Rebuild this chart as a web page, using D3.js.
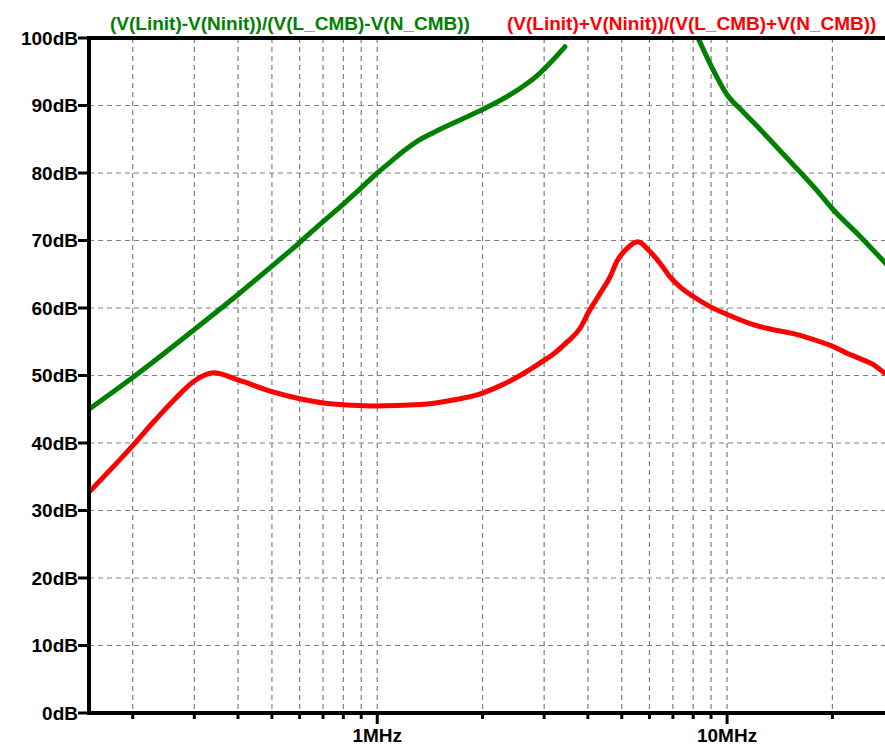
<!DOCTYPE html>
<html>
<head>
<meta charset="utf-8">
<script src="https://cdn.jsdelivr.net/npm/d3@7"></script>
<style>
  body { margin: 0; background: #fff; }
  svg text { font-family: "Liberation Sans", Arial, sans-serif; font-weight: bold; }
</style>
</head>
<body>
<svg id="bode" width="885" height="747"></svg>
<script>
(function () {
  'use strict';

  // trace names
  var titles = [
    '(V(Linit)-V(Ninit))/(V(L_CMB)-V(N_CMB))',
    '(V(Linit)+V(Ninit))/(V(L_CMB)+V(N_CMB))'
  ];

  // differential-mode trace (null = off the top of the plot)
  var diffFreq = [150e3, 200e3, 300e3, 400e3, 500e3, 600e3, 700e3, 800e3, 900e3, 1e6,
    1.1e6, 1.2e6, 1.3e6, 1.45e6, 1.7e6, 2e6, 2.4e6, 2.62e6, 2.86e6, 3.12e6, 3.44e6, 5.5e6,
    8.26e6, 9.04e6, 10e6, 11e6, 12e6, 14e6, 16e6, 18e6, 20e6, 24e6, 28.3e6, 30e6];
  var diffDb = [45.0, 49.7, 56.8, 62.0, 66.2, 69.7, 72.8, 75.4, 77.8, 80.0,
    81.8, 83.4, 84.7, 86.0, 87.7, 89.4, 91.6, 92.9, 94.4, 96.3, 98.7, null,
    100.0, 95.7, 91.6, 89.3, 87.3, 83.6, 80.4, 77.5, 74.7, 70.6, 66.7, 65.3];

  // common-mode trace
  var commFreq = [150e3, 200e3, 232e3, 265e3, 302e3, 341e3, 402e3, 500e3, 596e3, 710e3, 847e3, 986e3,
    1.33e6, 1.62e6, 2e6, 2.25e6, 2.56e6, 2.99e6, 3.19e6, 3.48e6, 3.8e6, 4.02e6, 4.34e6, 4.63e6,
    4.84e6, 5.17e6, 5.56e6, 5.96e6, 6.44e6, 6.87e6, 7.42e6, 8.01e6, 8.94e6, 10.05e6, 11.63e6,
    12.98e6, 15.47e6, 18.44e6, 20.1e6, 22e6, 24e6, 26.2e6, 28.3e6, 30e6];
  var commDb = [32.7, 39.6, 43.4, 46.6, 49.3, 50.4, 49.3, 47.6, 46.6, 45.9, 45.6, 45.5,
    45.7, 46.3, 47.4, 48.5, 50.0, 52.2, 53.2, 54.9, 57.0, 59.4, 62.2, 64.6,
    66.9, 68.8, 69.8, 68.6, 66.6, 64.6, 62.9, 61.7, 60.2, 59.0, 57.7,
    57.0, 56.2, 55.0, 54.3, 53.3, 52.5, 51.6, 50.3, 49.5];

  // axis ticks
  var dbTicks = [0, 10, 20, 30, 40, 50, 60, 70, 80, 90, 100];
  var freqGrid = [200e3, 300e3, 400e3, 500e3, 600e3, 700e3, 800e3, 900e3,
    1e6, 2e6, 3e6, 4e6, 5e6, 6e6, 7e6, 8e6, 9e6, 10e6, 20e6];
  var freqMajor = [1e6, 10e6];
  var freqLabels = ['1MHz', '10MHz'];

  var left = 89, right = 894, top = 38, bottom = 713;

  var x = d3.scaleLog().domain([150e3, 30e6]).range([left, right]);
  var y = d3.scaleLinear().domain([0, 100]).range([bottom, top]);

  var svg = d3.select('svg#bode');

  svg.append('defs').append('clipPath').attr('id', 'plot-clip')
    .append('rect')
    .attr('x', left).attr('y', top)
    .attr('width', right - left).attr('height', bottom - top);

  // grid
  var grid = svg.append('g').attr('class', 'grid')
    .attr('stroke', '#808080').attr('stroke-width', 1.2)
    .attr('stroke-dasharray', '5,4');

  grid.selectAll('line.v').data(freqGrid).enter().append('line')
    .attr('x1', function (d) { return x(d); })
    .attr('x2', function (d) { return x(d); })
    .attr('y1', top).attr('y2', bottom);

  grid.selectAll('line.h').data(dbTicks.slice(1, -1)).enter().append('line')
    .attr('x1', left).attr('x2', right)
    .attr('y1', function (d) { return y(d); })
    .attr('y2', function (d) { return y(d); });

  // traces
  var traces = svg.append('g').attr('clip-path', 'url(#plot-clip)');

  var makeLine = function (freqs, vals) {
    var pts = freqs.map(function (f, i) { return { f: f, v: vals[i] }; });
    var line = d3.line()
      .defined(function (d) { return d.v !== null; })
      .x(function (d) { return x(d.f); })
      .y(function (d) { return y(d.v); })
      .curve(d3.curveMonotoneX);
    return line(pts);
  };

  traces.append('path')
    .attr('d', makeLine(diffFreq, diffDb))
    .attr('fill', 'none').attr('stroke', '#008000')
    .attr('stroke-width', 5).attr('stroke-linecap', 'round').attr('stroke-linejoin', 'round');

  traces.append('path')
    .attr('d', makeLine(commFreq, commDb))
    .attr('fill', 'none').attr('stroke', '#ff0000')
    .attr('stroke-width', 5).attr('stroke-linecap', 'round').attr('stroke-linejoin', 'round');

  // frame
  var frame = svg.append('g').attr('stroke', '#000').attr('stroke-width', 4);
  frame.append('line').attr('x1', left).attr('x2', left).attr('y1', top - 2).attr('y2', bottom + 2);
  frame.append('line').attr('x1', left).attr('x2', 885).attr('y1', top).attr('y2', top);
  frame.append('line').attr('x1', left).attr('x2', 885).attr('y1', bottom).attr('y2', bottom);

  // y ticks + labels
  var yAxis = svg.append('g');
  yAxis.selectAll('line').data(dbTicks).enter().append('line')
    .attr('x1', left - 11).attr('x2', left)
    .attr('y1', function (d) { return y(d); })
    .attr('y2', function (d) { return y(d); })
    .attr('stroke', '#000').attr('stroke-width', 3);
  yAxis.selectAll('text').data(dbTicks).enter().append('text')
    .attr('x', left - 11)
    .attr('y', function (d) { return y(d); })
    .attr('dy', '0.36em')
    .style('text-anchor', 'end')
    .style('font-size', '19px')
    .attr('fill', '#000')
    .text(function (d) { return d + 'dB'; });

  // x ticks + labels
  var xAxis = svg.append('g');
  xAxis.selectAll('line').data(freqGrid).enter().append('line')
    .attr('x1', function (d) { return x(d); })
    .attr('x2', function (d) { return x(d); })
    .attr('y1', bottom)
    .attr('y2', function (d) { return freqMajor.indexOf(d) >= 0 ? bottom + 11 : bottom + 6; })
    .attr('stroke', '#000').attr('stroke-width', 3);
  xAxis.selectAll('text').data(freqMajor).enter().append('text')
    .attr('x', function (d) { return x(d); })
    .attr('y', 742)
    .style('text-anchor', 'middle')
    .style('font-size', '19px')
    .attr('fill', '#000')
    .text(function (d, i) { return freqLabels[i]; });

  // trace titles
  svg.append('text')
    .attr('x', 110).attr('y', 30)
    .style('font-size', '19px')
    .attr('fill', '#008000')
    .text(titles[0]);
  svg.append('text')
    .attr('x', 507).attr('y', 30)
    .style('font-size', '19px')
    .attr('fill', '#ff0000')
    .text(titles[1]);
}());
</script>
</body>
</html>
